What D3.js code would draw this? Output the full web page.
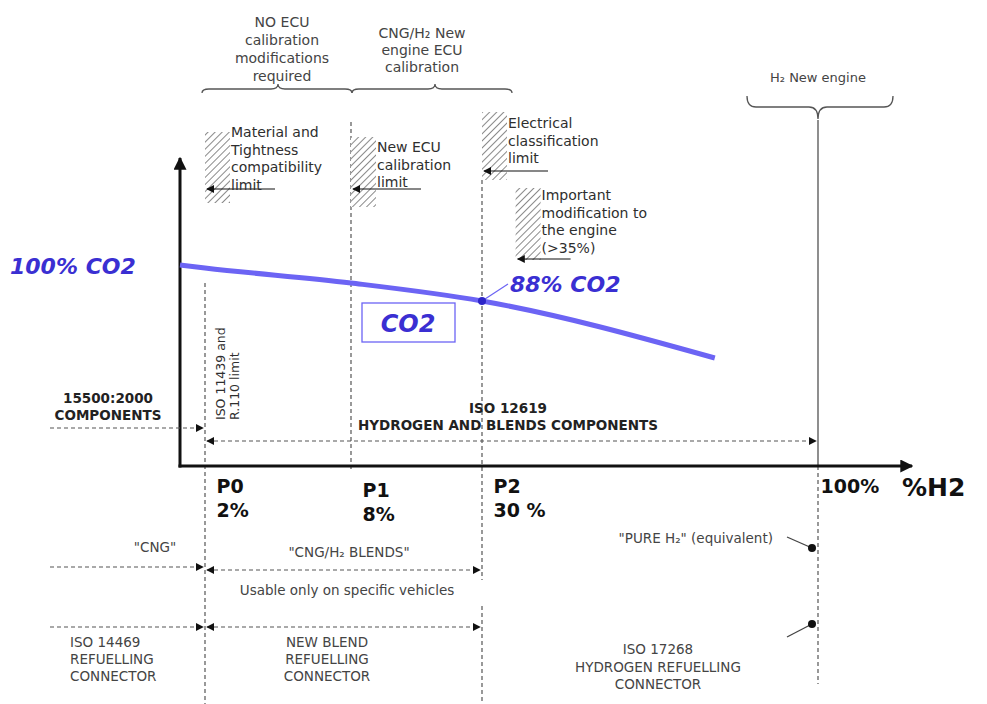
<!DOCTYPE html>
<html>
<head>
<meta charset="utf-8">
<script src="https://cdn.jsdelivr.net/npm/d3@7"></script>
<style>
  html, body { margin: 0; padding: 0; background: #fff; }
  svg { display: block; font-family: "DejaVu Sans", Verdana, sans-serif; }
</style>
</head>
<body>
<svg id="chart" width="987" height="704"></svg>
<script>
// ---------------- DATA ----------------
const tickH2 = [2, 8, 30, 100];
const tickNames = ["P0", "P1", "P2", "100%"];
const tickPercents = ["2%", "8%", "30 %", ""];

const co2H2 = [0, 2, 8, 30, 78.5];
const co2Values = [100, 99, 94, 88, 69];

const co2StartLabel = "100% CO2";
const co2P2Label = "88% CO2";
const co2BoxLabel = "CO2";

const limitH2 = [2, 8, 30, 37];
const limitTexts = [
  ["Material and", "Tightness", "compatibility", "limit"],
  ["New ECU", "calibration", "limit"],
  ["Electrical", "classification", "limit"],
  ["Important", "modification to", "the engine", "(>35%)"]
];

const phaseTexts = [
  ["NO ECU", "calibration", "modifications", "required"],
  ["CNG/H\u2082 New", "engine ECU", "calibration"],
  ["H\u2082 New engine"]
];

const componentLeft = ["15500:2000", "COMPONENTS"];
const componentRight = ["ISO 12619", "HYDROGEN AND BLENDS COMPONENTS"];
const isoLimit = ["ISO 11439 and", "R.110 limit"];

const fuelNames = ["\"CNG\"", "\"CNG/H\u2082 BLENDS\"", "\"PURE H\u2082\" (equivalent)"];
const blendNote = "Usable only on specific vehicles";
const connectorNames = [
  ["ISO 14469", "REFUELLING", "CONNECTOR"],
  ["NEW BLEND", "REFUELLING", "CONNECTOR"],
  ["ISO 17268", "HYDROGEN REFUELLING", "CONNECTOR"]
];
const xAxisTitle = "%H2";

// ---------------- SCALES ----------------
// schematic (piecewise) H2 axis
const x = d3.scaleLinear().domain([0, 2, 8, 30, 100]).range([180, 205, 351, 482, 818]);
const y = d3.scaleLinear().domain([60, 100]).range([385, 265]);
const axisY = 466;

const svg = d3.select("#chart");
const defs = svg.append("defs");

function marker(id, size) {
  defs.append("marker").attr("id", id)
    .attr("viewBox", "0 0 10 10").attr("refX", 9).attr("refY", 5)
    .attr("markerWidth", size).attr("markerHeight", size)
    .attr("markerUnits", "userSpaceOnUse")
    .attr("orient", "auto-start-reverse")
    .append("path").attr("d", "M0,0 L10,5 L0,10 z").attr("fill", "#111");
}
marker("arr", 8);
marker("bigArr", 13);

const pat = defs.append("pattern").attr("id", "hatch")
  .attr("patternUnits", "userSpaceOnUse").attr("width", 5).attr("height", 5)
  .attr("patternTransform", "rotate(45)");
pat.append("rect").attr("width", 5).attr("height", 5).attr("fill", "#fff");
pat.append("line").attr("x1", 0).attr("y1", 0).attr("x2", 0).attr("y2", 5)
  .attr("stroke", "#8a8a8a").attr("stroke-width", 2);

const textCol = "#2e2e2e";
const blue = "#3a2fd2";
const lineBlue = "#6c64f4";

// ---------------- VERTICAL GUIDES ----------------
const dash = "4,3";
function vline(xv, y1, y2, dashed, col) {
  svg.append("line").attr("x1", x(xv)).attr("x2", x(xv)).attr("y1", y1).attr("y2", y2)
    .attr("stroke", col || "#555").attr("stroke-width", 1.2)
    .attr("stroke-dasharray", dashed ? dash : null);
}
vline(2, 283, 704, true);
vline(8, 122, 470, true);
vline(30, 180, 580, true);
vline(30, 606, 704, true);
vline(100, 120, axisY, false, "#444");
vline(100, axisY, 684, true);

// ---------------- BRACES ----------------
function hBrace(x1, x2, yb, tipX, e, t, r) {
  return `M${x1},${yb + e} Q${x1},${yb} ${x1 + r},${yb} L${tipX - r},${yb} Q${tipX},${yb} ${tipX},${yb - t}` +
    ` Q${tipX},${yb} ${tipX + r},${yb} L${x2 - r},${yb} Q${x2},${yb} ${x2},${yb + e}`;
}
const braceG = svg.append("g").attr("fill", "none").attr("stroke", "#555").attr("stroke-width", 1.3);
braceG.append("path").attr("d", hBrace(202, 352, 89, 278, 4, 5, 7));
braceG.append("path").attr("d", hBrace(352, 512, 89, 435, 4, 5, 7));
braceG.append("path").attr("d", hBrace(747, 893, 107, x(100), -11, -12, 9));

function multiText(lines, xp, y0, lh, opts) {
  const t = svg.append("text").attr("x", xp).attr("y", y0)
    .attr("font-size", opts.size || 14)
    .attr("font-weight", opts.weight || "normal")
    .attr("fill", opts.fill || textCol)
    .attr("text-anchor", opts.anchor || "start");
  lines.forEach((l, i) => {
    t.append("tspan").attr("x", xp).attr("y", y0 + i * lh).text(l);
  });
  return t;
}
multiText(phaseTexts[0], 282, 27, 18, { anchor: "middle", fill: "#444" });
multiText(phaseTexts[1], 422, 38, 17, { anchor: "middle", fill: "#444" });
multiText(phaseTexts[2], 818, 82, 17, { anchor: "middle", fill: "#444", size: 13 });

// ---------------- LIMIT BOXES ----------------
const boxTop = [132, 137, 112, 188];
const boxBottom = [203, 207, 180, 260];
const arrowY = [189, 189, 171, 259];
const arrowLen = [70, 70, 66, 55];
const textBase = [137, 152, 128, 200];
limitH2.forEach((h, i) => {
  const bx = x(h);
  svg.append("rect").attr("x", bx).attr("y", boxTop[i]).attr("width", 25)
    .attr("height", boxBottom[i] - boxTop[i]).attr("fill", "url(#hatch)");
  svg.append("line").attr("x1", bx + arrowLen[i]).attr("x2", bx + 2)
    .attr("y1", arrowY[i]).attr("y2", arrowY[i])
    .attr("stroke", "#111").attr("stroke-width", 1.2).attr("marker-end", "url(#arr)");
  multiText(limitTexts[i], bx + 26, textBase[i], 17.5, {});
});

// ---------------- AXES ----------------
svg.append("line").attr("x1", 180).attr("x2", 180).attr("y1", axisY + 1.5).attr("y2", 158)
  .attr("stroke", "#111").attr("stroke-width", 3).attr("marker-end", "url(#bigArr)");
svg.append("line").attr("x1", 178.5).attr("x2", 912).attr("y1", axisY).attr("y2", axisY)
  .attr("stroke", "#111").attr("stroke-width", 3).attr("marker-end", "url(#bigArr)");

const xAxis = d3.axisBottom(x).tickValues(tickH2).tickSize(0).tickFormat((d, i) => tickNames[i]);
const axG = svg.append("g").attr("transform", `translate(0,${axisY})`).call(xAxis);
axG.select(".domain").remove();
axG.selectAll(".tick text").each(function (d, i) {
  const t = d3.select(this);
  const off = i < 3 ? 11 : 2;
  t.text(null).attr("text-anchor", "start").attr("font-family", "DejaVu Sans, Verdana, sans-serif")
    .attr("font-size", 19).attr("font-weight", "bold").attr("fill", "#111").attr("dy", null).attr("y", 0);
  t.append("tspan").attr("x", off).attr("y", 27 + (i === 1 ? 4 : 0)).text(tickNames[i]);
  if (tickPercents[i]) t.append("tspan").attr("x", off).attr("y", 51 + (i === 1 ? 4 : 0)).text(tickPercents[i]);
});
svg.append("text").attr("x", 902).attr("y", 496).attr("font-size", 25).attr("font-weight", "bold")
  .attr("fill", "#111").text(xAxisTitle);

// ---------------- CO2 LINE ----------------
const co2Data = co2H2.map((h, i) => ({ h, v: co2Values[i] }));
const lineGen = d3.line().x(d => x(d.h)).y(d => y(d.v)).curve(d3.curveMonotoneX);
svg.append("path").datum(co2Data).attr("d", lineGen)
  .attr("fill", "none").attr("stroke", lineBlue).attr("stroke-width", 5).attr("stroke-linecap", "butt");

const p2 = co2Data[3];
svg.append("line").attr("x1", x(p2.h)).attr("y1", y(p2.v)).attr("x2", x(p2.h) + 26).attr("y2", y(p2.v) - 17)
  .attr("stroke", lineBlue).attr("stroke-width", 1.2);
svg.append("circle").attr("cx", x(p2.h)).attr("cy", y(p2.v)).attr("r", 4).attr("fill", "#2d25c8");

svg.append("text").attr("x", 10).attr("y", y(100) + 9).attr("font-size", 22)
  .attr("font-weight", "bold").attr("font-style", "italic").attr("fill", blue).text(co2StartLabel);
svg.append("text").attr("x", 510).attr("y", 292).attr("font-size", 22)
  .attr("font-weight", "bold").attr("font-style", "italic").attr("fill", blue).text(co2P2Label);
svg.append("rect").attr("x", 362).attr("y", 303).attr("width", 93).attr("height", 39)
  .attr("fill", "#fff").attr("stroke", lineBlue).attr("stroke-width", 1.3);
svg.append("text").attr("x", 408).attr("y", 332).attr("text-anchor", "middle").attr("font-size", 24)
  .attr("font-weight", "bold").attr("font-style", "italic").attr("fill", blue).text(co2BoxLabel);

// ---------------- COMPONENT STANDARDS ----------------
function hArrow(x1, x2, yv, both) {
  svg.append("line").attr("x1", x1).attr("x2", x2).attr("y1", yv).attr("y2", yv)
    .attr("stroke", "#555").attr("stroke-width", 1.2).attr("stroke-dasharray", dash)
    .attr("marker-end", "url(#arr)").attr("marker-start", both ? "url(#arr)" : null);
}
multiText(componentLeft, 108, 403, 17, { anchor: "middle", weight: "bold", size: 13.5, fill: "#222" });
hArrow(50, x(2) - 2, 428, false);
multiText(componentRight, 508, 413, 17, { anchor: "middle", weight: "bold", size: 13.5, fill: "#222" });
hArrow(x(2) + 2, x(100) - 2, 441, true);

const rot = svg.append("text").attr("transform", `translate(225,420) rotate(-90)`)
  .attr("font-size", 12.5).attr("fill", textCol);
rot.append("tspan").attr("x", 0).attr("y", 0).text(isoLimit[0]);
rot.append("tspan").attr("x", 0).attr("y", 14).text(isoLimit[1]);

// ---------------- FUEL ROWS ----------------
svg.append("text").attr("x", 155).attr("y", 552).attr("text-anchor", "middle").attr("font-size", 13.5)
  .attr("fill", "#444").text(fuelNames[0]);
hArrow(50, x(2) - 2, 567, false);
svg.append("text").attr("x", 349).attr("y", 557).attr("text-anchor", "middle").attr("font-size", 13.5)
  .attr("fill", "#444").text(fuelNames[1]);
hArrow(x(2) + 2, x(30) - 2, 570, true);
svg.append("text").attr("x", 347).attr("y", 595).attr("text-anchor", "middle").attr("font-size", 13.5)
  .attr("fill", "#444").text(blendNote);
svg.append("text").attr("x", 773).attr("y", 543).attr("text-anchor", "end").attr("font-size", 13.5)
  .attr("fill", "#444").text(fuelNames[2]);

hArrow(50, x(2) - 2, 627, false);
hArrow(x(2) + 2, x(30) - 2, 627, true);
multiText(connectorNames[0], 70, 647, 17, { size: 13.5, fill: "#444" });
multiText(connectorNames[1], 327, 647, 17, { size: 13.5, fill: "#444", anchor: "middle" });
multiText(connectorNames[2], 658, 654, 17.5, { size: 13.5, fill: "#444", anchor: "middle" });

// leader dots to the pure H2 line
[[548, 537], [624, 637]].forEach(([dy, ly]) => {
  svg.append("line").attr("x1", 787).attr("y1", ly).attr("x2", x(100) - 6).attr("y2", dy)
    .attr("stroke", "#444").attr("stroke-width", 1.3);
  svg.append("circle").attr("cx", x(100) - 6).attr("cy", dy).attr("r", 4).attr("fill", "#111");
});
</script>
</body>
</html>
